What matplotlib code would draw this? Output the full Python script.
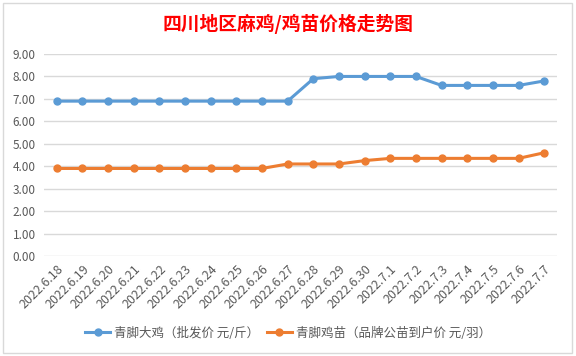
import matplotlib
matplotlib.use("Agg")
import matplotlib.pyplot as plt
from matplotlib.patches import Rectangle

plt.rcParams["font.family"] = ["Noto Sans CJK SC", "DejaVu Sans"]

# data
dates = ["2022.6.18", "2022.6.19", "2022.6.20", "2022.6.21", "2022.6.22",
         "2022.6.23", "2022.6.24", "2022.6.25", "2022.6.26", "2022.6.27",
         "2022.6.28", "2022.6.29", "2022.6.30", "2022.7.1", "2022.7.2",
         "2022.7.3", "2022.7.4", "2022.7.5", "2022.7.6", "2022.7.7"]
big_chicken = [6.9, 6.9, 6.9, 6.9, 6.9, 6.9, 6.9, 6.9, 6.9, 6.9,
               7.9, 8.0, 8.0, 8.0, 8.0, 7.6, 7.6, 7.6, 7.6, 7.8]
chick = [3.9, 3.9, 3.9, 3.9, 3.9, 3.9, 3.9, 3.9, 3.9, 4.1,
         4.1, 4.1, 4.25, 4.35, 4.35, 4.35, 4.35, 4.35, 4.35, 4.6]
series_names = ["青脚大鸡（批发价 元/斤）", "青脚鸡苗（品牌公苗到户价 元/羽）"]
title = "四川地区麻鸡/鸡苗价格走势图"

BLUE = "#5B9BD5"
ORANGE = "#ED7D31"
TEXT = "#595959"
GRID = "#D9D9D9"

fig = plt.figure(figsize=(5.76, 3.56), dpi=100)
ax = fig.add_axes([44 / 576, 1 - 256 / 356, (557 - 44) / 576, (256 - 54) / 356])

x = list(range(len(dates)))
ax.plot(x, big_chicken, color=BLUE, lw=2.2, marker="o", ms=5, label=series_names[0])
ax.plot(x, chick, color=ORANGE, lw=2.2, marker="o", ms=5, label=series_names[1])

ax.set_xlim(-0.5, len(dates) - 0.5)
ax.set_ylim(0, 9)
ax.set_yticks(range(10))
ax.set_yticklabels([f"{v:.2f}" for v in range(10)])
ax.set_xticks(x)
ax.set_xticklabels(dates, rotation=45, ha="right", rotation_mode="anchor")
ax.tick_params(axis="y", length=0, pad=6, labelsize=8.5, labelcolor=TEXT)
ax.tick_params(axis="x", length=0, pad=5, labelsize=9, labelcolor=TEXT)
ax.grid(axis="y", color=GRID, lw=1)
ax.set_axisbelow(True)
for s in ax.spines.values():
    s.set_visible(False)

fig.text(0.5, 1 - 24 / 356, title, ha="center", va="center",
         color="#FF0000", fontsize=13.5, fontweight="bold")

fig.legend(loc="center", bbox_to_anchor=(0.5, 1 - 333 / 356), ncol=2,
           frameon=False, fontsize=9, labelcolor=TEXT, handlelength=2.0,
           columnspacing=0.6, handletextpad=0.3)

# chart border
fig.patches.append(Rectangle((3 / 576, 1 - 353 / 356), 569 / 576, 350 / 356,
                             transform=fig.transFigure, fill=False,
                             edgecolor=GRID, lw=1))

fig.savefig("out.png", dpi=100)
